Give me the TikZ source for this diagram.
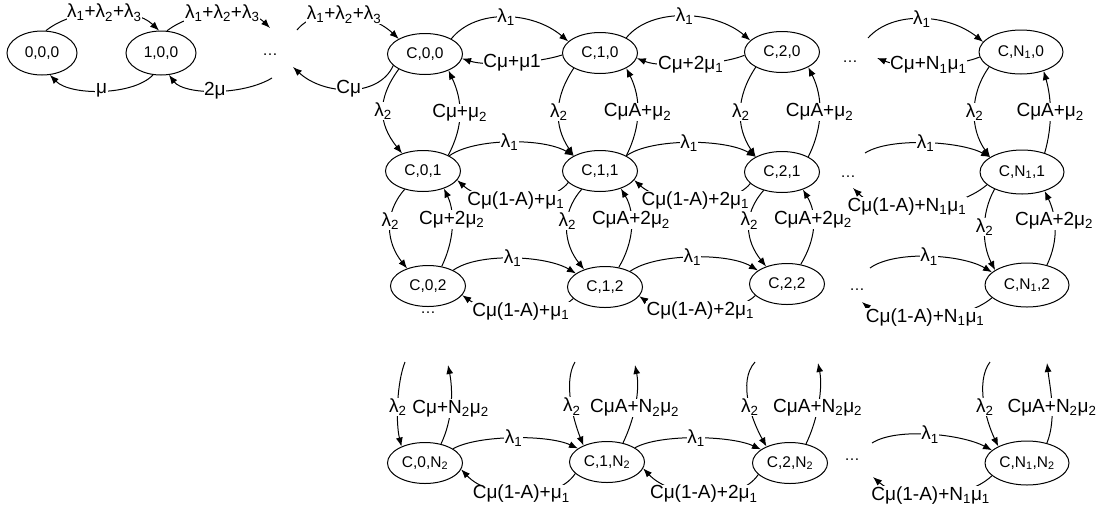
\documentclass[tikz,border=0pt]{standalone}
\usepackage{fontspec}
\setmainfont{Liberation Sans}
\usetikzlibrary{shapes.geometric,arrows.meta}
\newcommand\sbx[1]{\textsubscript{#1}}
\newcommand\labfont{\fontsize{19}{21}\selectfont}
\newcommand\stfont{\fontsize{15.5}{17}\selectfont}
\begin{document}
\begin{tikzpicture}[x=1pt,y=-1pt,
 st/.style={draw, ellipse, line width=1pt, minimum width=75pt, minimum height=41pt, inner sep=0pt, font=\stfont},
 stw/.style={st, minimum width=84pt, minimum height=44pt},
 s0/.style={st, minimum width=70pt, minimum height=44pt},
 lab/.style={fill=white, inner sep=0.6pt, font=\labfont},
 con/.style={line width=1pt, -{Latex[length=9pt,width=7pt]}},
 dotn/.style={font=\stfont, inner sep=0pt}]
\fill[white] (0,0) rectangle (1106,515);
\useasboundingbox (0,0) rectangle (1106,515);
% nodes
\node[s0] (n000) at (42,53) {0,0,0};
\node[s0] (n100) at (161,53) {1,0,0};
\node[dotn] (d0) at (270,55) {…};
\node[st] (c00) at (425,54) {C,0,0};
\node[st] (c10) at (600,53) {C,1,0};
\node[st] (c20) at (782,52) {C,2,0};
\node[stw] (cN0) at (1021,52) {C,N\sbx1,0};
\node[dotn] (d10) at (850,62) {…};
\node[st] (c01) at (423,171) {C,0,1};
\node[st] (c11) at (600,171) {C,1,1};
\node[st] (c21) at (782,172) {C,2,1};
\node[stw] (cN1) at (1022,172) {C,N\sbx1,1};
\node[dotn] (d11) at (848,177) {…};
\node[st] (c02) at (428,286) {C,0,2};
\node[st] (c12) at (605,287) {C,1,2};
\node[st] (c22) at (787,284) {C,2,2};
\node[stw] (cN2) at (1027,285) {C,N\sbx1,2};
\node[dotn] (d12) at (857,290) {…};
\node[dotn] (dv) at (428,313) {…};
\node[st] (c03) at (425,463) {C,0,N\sbx2};
\node[st] (c13) at (607,462) {C,1,N\sbx2};
\node[st] (c23) at (790,463) {C,2,N\sbx2};
\node[stw] (cN3) at (1027,463) {C,N\sbx1,N\sbx2};
\node[dotn] (d13) at (852,460) {…};
% free ends
\coordinate (a1) at (272,78);
\coordinate (a2) at (293,67);
\coordinate (a3) at (270,28);
\coordinate (a4) at (297,30);
\coordinate (f0s) at (868,38);
\coordinate (f0e) at (877,58);
\coordinate (f1s) at (865,153);
\coordinate (f1e) at (853,188);
\coordinate (f2s) at (870,268);
\coordinate (f2e) at (862,302);
\coordinate (f3s) at (872,443);
\coordinate (f3e) at (873,477);
\coordinate (b0) at (405,362);
\coordinate (u0) at (448,365);
\coordinate (b1) at (575,362);
\coordinate (u1) at (635,365);
\coordinate (b2) at (755,362);
\coordinate (u2) at (818,363);
\coordinate (b3) at (990,362);
\coordinate (u3) at (1047,363);
% top-left
\draw[con] (n000.80) .. controls +(30,-24) and +(-25,-24) .. (n100.95) node[lab,pos=0.5]{λ\sbx1+λ\sbx2+λ\sbx3};
\draw[con] (n100.75) .. controls +(30,-23) and +(-20,-20) .. (a3) node[lab,pos=0.5]{λ\sbx1+λ\sbx2+λ\sbx3};
\draw[con] (a4) .. controls +(20,-25) and +(-30,-28) .. (c00.150) node[lab,pos=0.5]{λ\sbx1+λ\sbx2+λ\sbx3};
\draw[con] (n100.250) .. controls +(-20,21) and +(20,21) .. (n000.290) node[lab,pos=0.5]{μ};
\draw[con] (a1) .. controls +(-30,18) and +(15,20) .. (n100.290) node[lab,pos=0.5]{2μ};
\draw[con] (c00.200) .. controls +(-15,33) and +(30,28) .. (a2) node[lab,pos=0.5]{Cμ};
% row 0
\draw[con] (c00.30) .. controls +(25,-31) and +(-35,-30) .. (c10.160) node[lab,pos=0.5]{λ\sbx1};
\draw[con] (c10.30) .. controls +(25,-31) and +(-35,-30) .. (c20.160) node[lab,pos=0.5]{λ\sbx1};
\draw[con] (f0s) .. controls +(25,-28) and +(-35,-28) .. (cN0.165) node[lab,pos=0.5]{λ\sbx1};
\draw[con] (c10.183) .. controls +(-25,8) and +(25,8) .. (c00.353) node[lab,pos=0.5]{Cμ+μ1};
\draw[con] (c20.185) .. controls +(-25,10) and +(25,10) .. (c10.352) node[lab,pos=0.5]{Cμ+2μ\sbx1};
\draw[con] (cN0.187) .. controls +(-25,10) and +(25,10) .. (f0e) node[lab,pos=0.5]{Cμ+N\sbx1μ\sbx1};
% row 0 -> row 1
\draw[con] (c00.210) .. controls +(-22,30) and +(-24,-30) .. (c01.140) node[lab,pos=0.5]{λ\sbx2};
\draw[con] (c01.32) .. controls +(16,-30) and +(14,30) .. (c00.325) node[lab,pos=0.5]{Cμ+μ\sbx2};
\draw[con] (c10.210) .. controls +(-20,30) and +(-20,-30) .. (c11.150) node[lab,pos=0.5]{λ\sbx2};
\draw[con] (c11.30) .. controls +(15,-30) and +(15,30) .. (c10.330) node[lab,pos=0.5]{CμA+μ\sbx2};
\draw[con] (c20.210) .. controls +(-20,30) and +(-20,-30) .. (c21.150) node[lab,pos=0.5]{λ\sbx2};
\draw[con] (c21.30) .. controls +(15,-30) and +(15,30) .. (c20.330) node[lab,pos=0.5]{CμA+μ\sbx2};
\draw[con] (cN0.205) .. controls +(-20,28) and +(-20,-28) .. (cN1.155) node[lab,pos=0.5]{λ\sbx2};
\draw[con] (cN1.40) .. controls +(8,-28) and +(8,28) .. (cN0.320) node[lab,pos=0.5]{CμA+μ\sbx2};
% row 1
\draw[con] (c01.30) .. controls +(25,-18) and +(-30,-18) .. (c11.150) node[lab,pos=0.5]{λ\sbx1};
\draw[con] (c11.30) .. controls +(25,-18) and +(-30,-18) .. (c21.150) node[lab,pos=0.5]{λ\sbx1};
\draw[con] (f1s) .. controls +(25,-16) and +(-30,-16) .. (cN1.155) node[lab,pos=0.5]{λ\sbx1};
\draw[con] (c11.200) .. controls +(-20,25) and +(28,25) .. (c01.345) node[lab,pos=0.5]{Cμ(1-A)+μ\sbx1};
\draw[con] (c21.200) .. controls +(-20,25) and +(28,25) .. (c11.345) node[lab,pos=0.5]{Cμ(1-A)+2μ\sbx1};
\draw[con] (cN1.200) .. controls +(-35,30) and +(25,25) .. (f1e) node[lab,pos=0.56]{Cμ(1-A)+N\sbx1μ\sbx1};
% row 1 -> row 2
\draw[con] (c01.225) .. controls +(-22,25) and +(-20,-25) .. (c02.140) node[lab,pos=0.4]{λ\sbx2};
\draw[con] (c02.55) .. controls +(12,-25) and +(12,25) .. (c01.320) node[lab,pos=0.6]{Cμ+2μ\sbx2};
\draw[con] (c11.225) .. controls +(-22,25) and +(-20,-25) .. (c12.140) node[lab,pos=0.4]{λ\sbx2};
\draw[con] (c12.55) .. controls +(15,-25) and +(15,25) .. (c11.320) node[lab,pos=0.6]{CμA+2μ\sbx2};
\draw[con] (c21.225) .. controls +(-22,25) and +(-20,-25) .. (c22.140) node[lab,pos=0.4]{λ\sbx2};
\draw[con] (c22.55) .. controls +(15,-25) and +(15,25) .. (c21.320) node[lab,pos=0.6]{CμA+2μ\sbx2};
\draw[con] (cN1.212) .. controls +(-14,25) and +(-13,-25) .. (cN2.155) node[lab,pos=0.47]{λ\sbx2};
\draw[con] (cN2.45) .. controls +(12,-25) and +(12,25) .. (cN1.320) node[lab,pos=0.6]{CμA+2μ\sbx2};
% row 2
\draw[con] (c02.32) .. controls +(25,-18) and +(-30,-18) .. (c12.155) node[lab,pos=0.5]{λ\sbx1};
\draw[con] (c12.32) .. controls +(25,-18) and +(-30,-18) .. (c22.155) node[lab,pos=0.5]{λ\sbx1};
\draw[con] (f2s) .. controls +(25,-18) and +(-30,-18) .. (cN2.160) node[lab,pos=0.5]{λ\sbx1};
\draw[con] (c12.200) .. controls +(-20,20) and +(28,20) .. (c02.345) node[lab,pos=0.5]{Cμ(1-A)+μ\sbx1};
\draw[con] (c22.200) .. controls +(-20,20) and +(28,20) .. (c12.345) node[lab,pos=0.5]{Cμ(1-A)+2μ\sbx1};
\draw[con] (cN2.200) .. controls +(-30,26) and +(25,22) .. (f2e) node[lab,pos=0.5]{Cμ(1-A)+N\sbx1μ\sbx1};
% row 3
\draw[con] (b0) .. controls +(-8,20) and +(-6,-25) .. (c03.145) node[lab,pos=0.55]{λ\sbx2};
\draw[con] (c03.50) .. controls +(12,-25) and +(5,25) .. (u0) node[lab,pos=0.45]{Cμ+N\sbx2μ\sbx2};
\draw[con] (b1) .. controls +(-12,20) and +(-10,-25) .. (c13.145) node[lab,pos=0.55]{λ\sbx2};
\draw[con] (c13.50) .. controls +(12,-25) and +(5,25) .. (u1) node[lab,pos=0.45]{CμA+N\sbx2μ\sbx2};
\draw[con] (b2) .. controls +(-18,20) and +(-14,-25) .. (c23.145) node[lab,pos=0.55]{λ\sbx2};
\draw[con] (c23.50) .. controls +(12,-25) and +(5,25) .. (u2) node[lab,pos=0.45]{CμA+N\sbx2μ\sbx2};
\draw[con] (b3) .. controls +(-15,20) and +(-12,-25) .. (cN3.150) node[lab,pos=0.55]{λ\sbx2};
\draw[con] (cN3.45) .. controls +(10,-25) and +(3,25) .. (u3) node[lab,pos=0.45]{CμA+N\sbx2μ\sbx2};
\draw[con] (c03.27) .. controls +(25,-14) and +(-30,-14) .. (c13.155) node[lab,pos=0.5]{λ\sbx1};
\draw[con] (c13.27) .. controls +(25,-14) and +(-30,-14) .. (c23.155) node[lab,pos=0.5]{λ\sbx1};
\draw[con] (f3s) .. controls +(25,-16) and +(-30,-16) .. (cN3.160) node[lab,pos=0.5]{λ\sbx1};
\draw[con] (c13.200) .. controls +(-20,30) and +(28,30) .. (c03.350) node[lab,pos=0.5]{Cμ(1-A)+μ\sbx1};
\draw[con] (c23.200) .. controls +(-20,30) and +(28,30) .. (c13.350) node[lab,pos=0.5]{Cμ(1-A)+2μ\sbx1};
\draw[con] (cN3.200) .. controls +(-30,28) and +(25,22) .. (f3e) node[lab,pos=0.5]{Cμ(1-A)+N\sbx1μ\sbx1};
\end{tikzpicture}
\end{document}
